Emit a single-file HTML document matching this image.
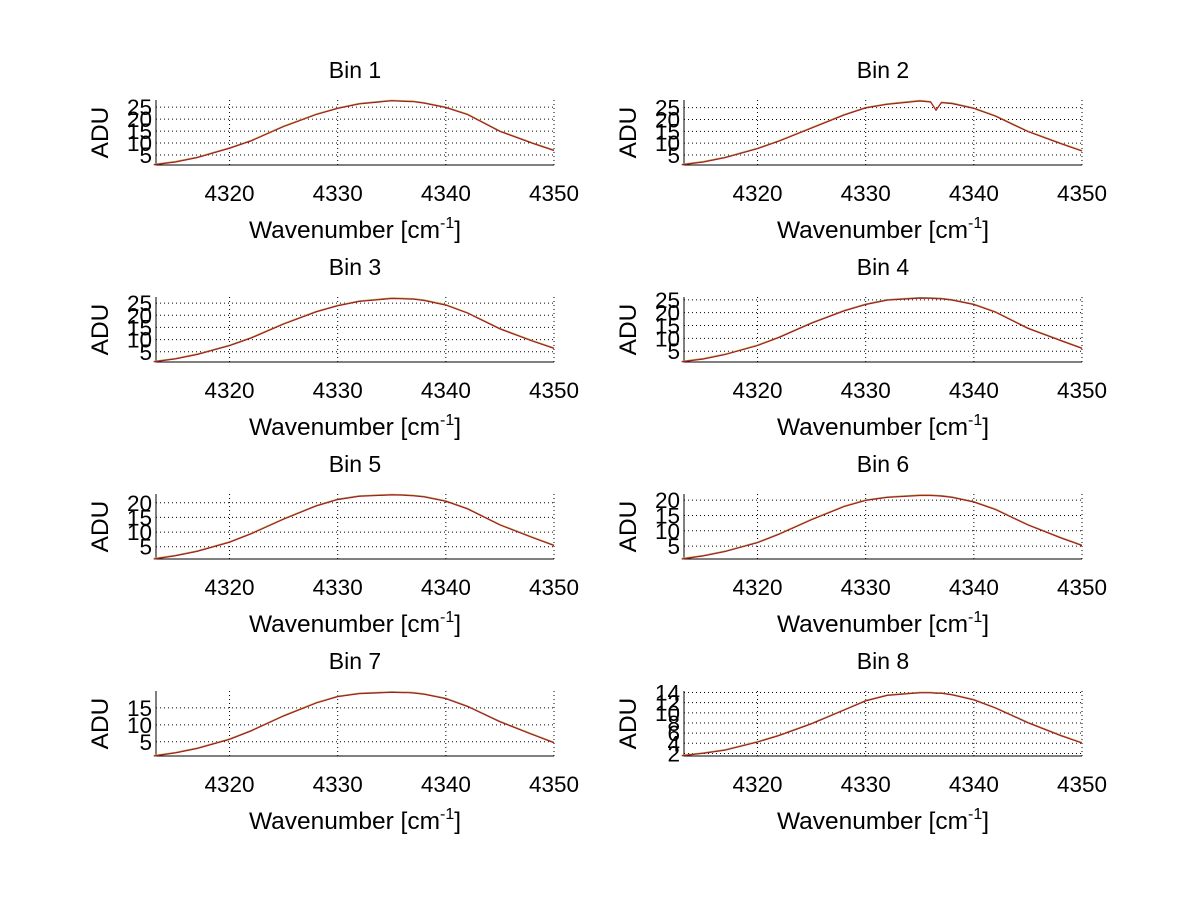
<!DOCTYPE html>
<html><head><meta charset="utf-8">
<style>
html,body{margin:0;padding:0;background:#fff;}
svg{display:block;font-family:"Liberation Sans",sans-serif;}
</style></head>
<body>
<svg id="fig" width="1200" height="901" viewBox="0 0 1200 901" xmlns="http://www.w3.org/2000/svg">
<rect width="1200" height="901" fill="#fff"/>
</svg>
<script>
const xs = [4313,4315,4317,4320,4322,4325,4328,4330,4332,4335,4336,4336.5,4337,4338,4340,4342,4345,4348,4350];
const bin1 = [1,2.2,4,7.9,11,17,22,24.6,26.5,27.8,27.6,27.5,27.4,26.8,25,22,15,10,7];
const bin2 = [1,2.2,4,7.8,11,16.5,22,25,26.5,27.9,27.5,24,27.2,26.8,24.8,21.5,15,10,6.8];
const bin3 = [1,2.2,4,7.6,10.8,16.5,21.5,24,25.8,27,26.9,26.8,26.7,26.2,24.3,21,14.5,9.5,6.5];
const bin4 = [1,2.1,3.8,7.3,10.5,16,20.8,23.3,25,25.8,25.7,25.6,25.5,25,23.3,20.3,14,9.3,6.2];
const bin5 = [0.9,2,3.5,6.6,9.5,14.5,19,21.2,22.3,22.8,22.7,22.6,22.5,22.1,20.6,18,12.5,8.2,5.5];
const bin6 = [0.9,1.9,3.3,6.2,9,13.7,18,20,21,21.6,21.6,21.5,21.4,21,19.5,17,12,7.8,5.3];
const bin7 = [0.9,1.8,3.1,5.8,8.3,12.7,16.5,18.4,19.3,19.7,19.6,19.6,19.5,19.1,17.8,15.5,11,7.2,4.8];
const bin8 = [1.6,2.1,2.7,4.3,5.6,7.9,10.6,12.4,13.5,14.0,14.0,13.9,13.9,13.6,12.6,11.0,8.1,5.6,4.1];
const series = [bin1,bin2,bin3,bin4,bin5,bin6,bin7,bin8];
const yRanges = [[0.8,28],[0.8,28.2],[0.8,27.5],[0.8,26.1],[0.8,23],[0.8,22],[0.8,20],[1.5,14.3]];
const yTicks = [[5,10,15,20,25],[5,10,15,20,25],[5,10,15,20,25],[5,10,15,20,25],[5,10,15,20],[5,10,15,20],[5,10,15],[2,4,6,8,10,12,14]];
const xTicks = [4320,4330,4340,4350];
const xMin = 4313.2, xMax = 4350;

const NS = "http://www.w3.org/2000/svg";
const svg = document.getElementById('fig');
function mk(tag, attrs, parent){const e=document.createElementNS(NS,tag);for(const k in attrs)e.setAttribute(k,attrs[k]);(parent||svg).appendChild(e);return e;}

const lefts=[156,684], tops=[100,297,494,691], W=398, H=65;
for(let i=0;i<8;i++){
  const L=lefts[i%2], T=tops[Math.floor(i/2)];
  const g=mk('g',{});
  
  
  const [y0,y1]=yRanges[i];
  const sx=v=>L+(v-xMin)/(xMax-xMin)*W;
  const sy=v=>T+H-(v-y0)/(y1-y0)*H;
  xTicks.forEach(t=>{
    const x=sx(t);
    const gl=mk('line',{x1:x,x2:x,y1:T,y2:T+H,stroke:'#000','stroke-width':1,'stroke-dasharray':'1,3'},g);
    
    
    const tl=mk('text',{x:x,y:T+H+36,'font-size':22.5,'text-anchor':'middle'},g);
    tl.textContent=t;
    
    
  });
  yTicks[i].forEach(t=>{
    const y=sy(t);
    const gl=mk('line',{x1:L,x2:L+W,y1:y,y2:y,stroke:'#000','stroke-width':1,'stroke-dasharray':'1,3'},g);
    
    
    const tl=mk('text',{x:L-4,y:y+8,'font-size':22.5,'text-anchor':'end'},g);
    tl.textContent=t;
    
    
  });
  const ax=mk('path',{d:`M${L},${T} V${T+H} H${L+W}`,fill:'none',stroke:'#000','stroke-width':1},g);
  
  
  const cols=['#e8c000','#3070c0','#c01010'];
  cols.forEach((c,k)=>{
    const pts=xs.map((x,j)=>sx(x).toFixed(1)+','+(sy(series[i][j])+(k-1)*0.4).toFixed(1)).join(' ');
    const pl=mk('polyline',{points:pts,fill:'none',stroke:c,'stroke-width':1},g);
    
    
  });
  const ti=mk('text',{x:L+W/2,y:T-22,'font-size':23,'text-anchor':'middle'},g);
  ti.textContent='Bin '+(i+1);
  
  
  const xl=mk('text',{x:L+W/2,y:T+H+73,'font-size':24.5,'text-anchor':'middle'},g);
  xl.innerHTML='Wavenumber [cm<tspan dy="-10" font-size="16">-1</tspan><tspan dy="10">]</tspan>';
  
  
  const yl=mk('text',{x:0,y:0,'font-size':24.5,'text-anchor':'middle',transform:`translate(${L-48},${T+H/2}) rotate(-90)`},g);
  yl.textContent='ADU';
  
  
}
</script>
</body></html>
